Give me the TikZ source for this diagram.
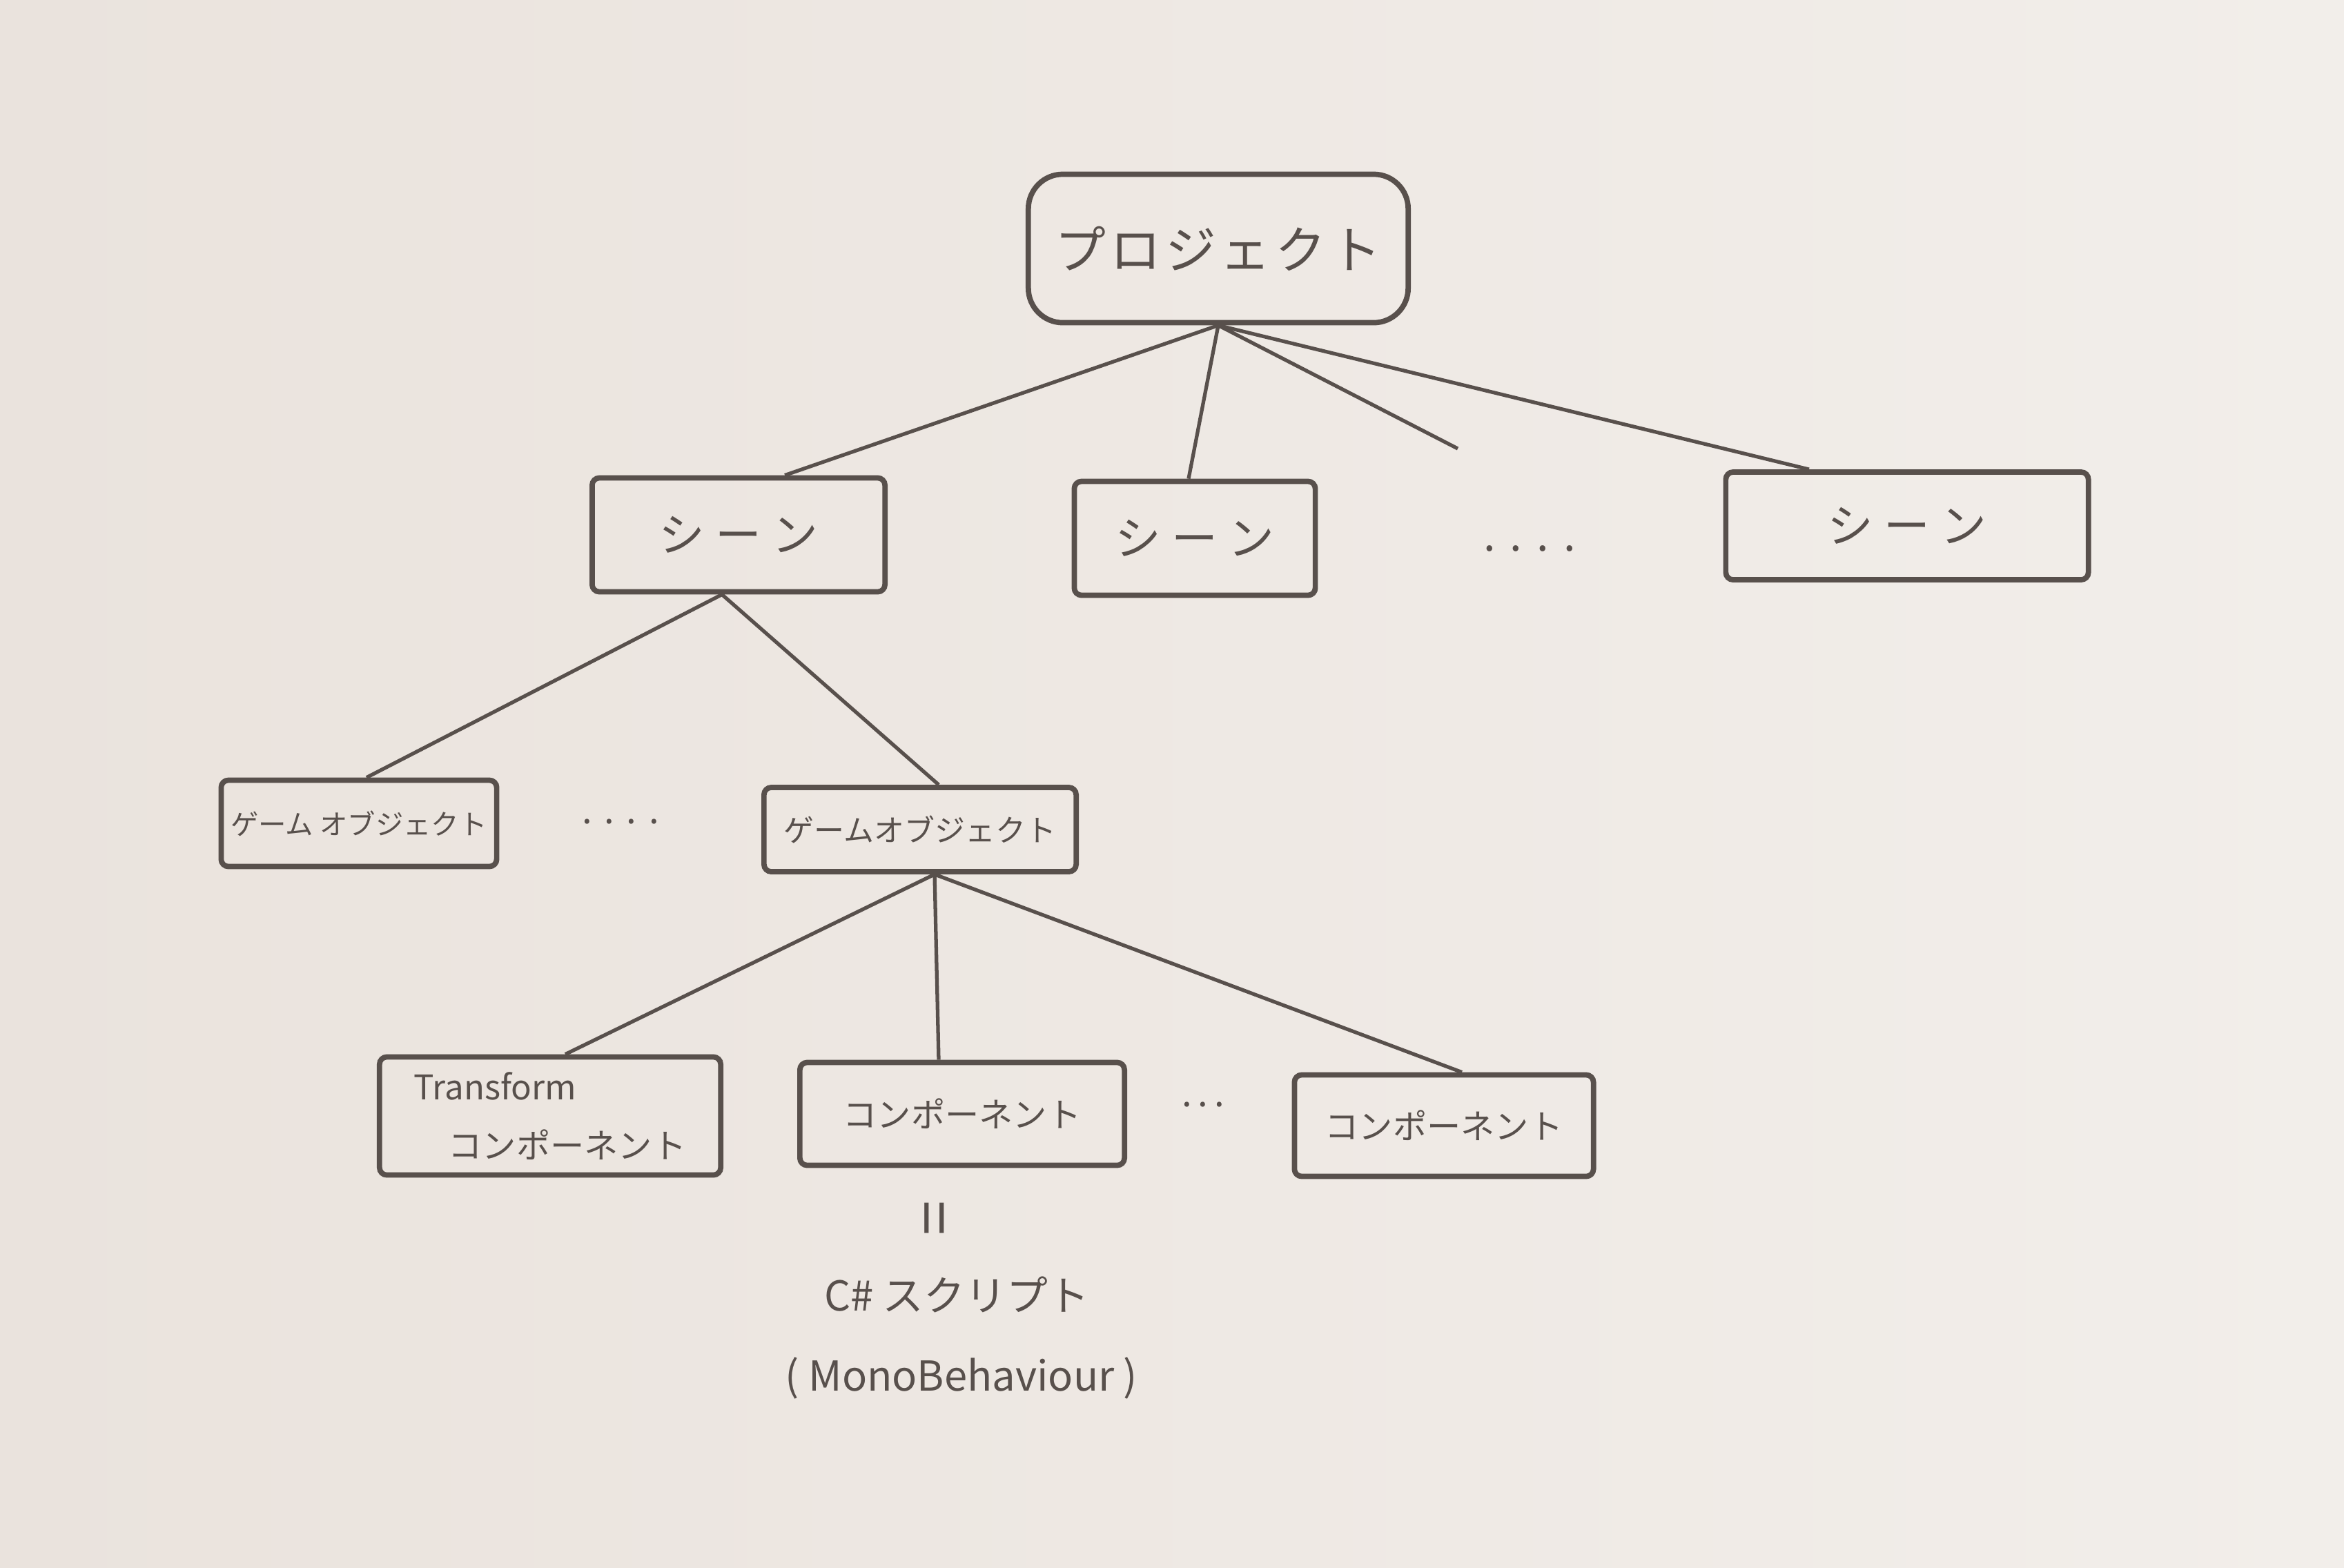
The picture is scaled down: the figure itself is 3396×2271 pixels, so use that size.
\documentclass[tikz,border=0pt]{standalone}
\usepackage{fontspec}
\newfontfamily\jp{Noto Sans CJK JP}
\definecolor{paper}{RGB}{234,227,221}
\definecolor{paperlight}{RGB}{242,238,234}
\definecolor{ink}{RGB}{88,80,76}
\tikzset{
  box/.style={draw=ink, line width=2.2pt, rounded corners=3pt, inner sep=0pt, text=ink, font=\jp},
  projbox/.style={box, rounded corners=0.5cm},
  link/.style={draw=ink, line width=1.5pt},
  lbl/.style={text=ink, font=\jp, inner sep=0pt},
}
\newcommand{\gapjp}{\hspace{0.08em}}
\begin{document}
\begin{tikzpicture}[x=0.01cm,y=-0.01cm]
\shade[left color=paper, right color=paperlight, use as bounding box] (0,0) rectangle (3396,2271);
% top
\node[projbox, minimum width=5.5cm, minimum height=2.15cm, font=\jp\fontsize{21}{26}\selectfont] (proj) at (1765,360) {プ\gapjp ロ\gapjp ジ\gapjp ェ\gapjp ク\gapjp ト};
% scenes
\node[box, minimum width=4.24cm, minimum height=1.65cm, font=\jp\fontsize{19}{24}\selectfont] (s1) at (1070,775) {シ ー ン};
\node[box, minimum width=3.49cm, minimum height=1.65cm, font=\jp\fontsize{19}{24}\selectfont] (s2) at (1731,780) {シ ー ン};
\node[lbl, font=\jp\fontsize{18}{20}\selectfont] (d1) at (2216,795) {.\,\,.\,\,.\,\,.};
\node[box, minimum width=5.25cm, minimum height=1.56cm, font=\jp\fontsize{19}{24}\selectfont] (s3) at (2763,762) {シ ー ン};
% game objects
\node[box, minimum width=3.99cm, minimum height=1.25cm, font=\jp\fontsize{11.5}{16}\selectfont] (go1) at (520,1193) {ゲーム オブジェクト};
\node[lbl, font=\jp\fontsize{15}{16}\selectfont] (d2) at (899,1190) {.\,\,.\,\,.\,\,.};
\node[box, minimum width=4.52cm, minimum height=1.22cm, font=\jp\fontsize{12.5}{16}\selectfont] (go2) at (1333,1202) {ゲームオブジェクト};
% components
\node[box, minimum width=4.94cm, minimum height=1.71cm, font=\jp\fontsize{14}{24}\selectfont, align=left] (tr) at (797,1617) {Transform\\\hspace*{0.5cm}コンポーネント};
\node[box, minimum width=4.70cm, minimum height=1.49cm, font=\jp\fontsize{14}{16}\selectfont] (c2) at (1394,1614) {コンポーネント};
\node[lbl, font=\jp\fontsize{15}{16}\selectfont] (d3) at (1743,1600) {.\,.\,.};
\node[box, minimum width=4.33cm, minimum height=1.47cm, font=\jp\fontsize{14}{16}\selectfont] (c3) at (2092,1631) {コンポーネント};
% script notes
\node[lbl, rotate=90, font=\jp\fontsize{26}{28}\selectfont] (eq) at (1364,1765) {=};
\node[lbl, font=\jp\fontsize{17}{20}\selectfont] (cs) at (1386,1876) {C\# スクリプト};
\node[lbl, font=\jp\fontsize{17}{20}\selectfont] (mb) at (1393,1997) {( MonoBehaviour )};
% connectors
\coordinate (free) at (2112,650);
\draw[link] (proj.south) -- ([xshift=0.67cm]s1.north);
\draw[link] (proj.south) -- ([xshift=-0.09cm]s2.north);
\draw[link] (proj.south) -- (free);
\draw[link] (proj.south) -- ([xshift=-1.42cm]s3.north);
\draw[link] ([xshift=-0.24cm]s1.south) -- ([xshift=0.11cm]go1.north);
\draw[link] ([xshift=-0.24cm]s1.south) -- ([xshift=0.27cm]go2.north);
\draw[link] ([xshift=0.21cm]go2.south) -- ([xshift=0.22cm]tr.north);
\draw[link] ([xshift=0.21cm]go2.south) -- ([xshift=-0.34cm]c2.north);
\draw[link] ([xshift=0.21cm]go2.south) -- ([xshift=0.26cm]c3.north);
\end{tikzpicture}
\end{document}
